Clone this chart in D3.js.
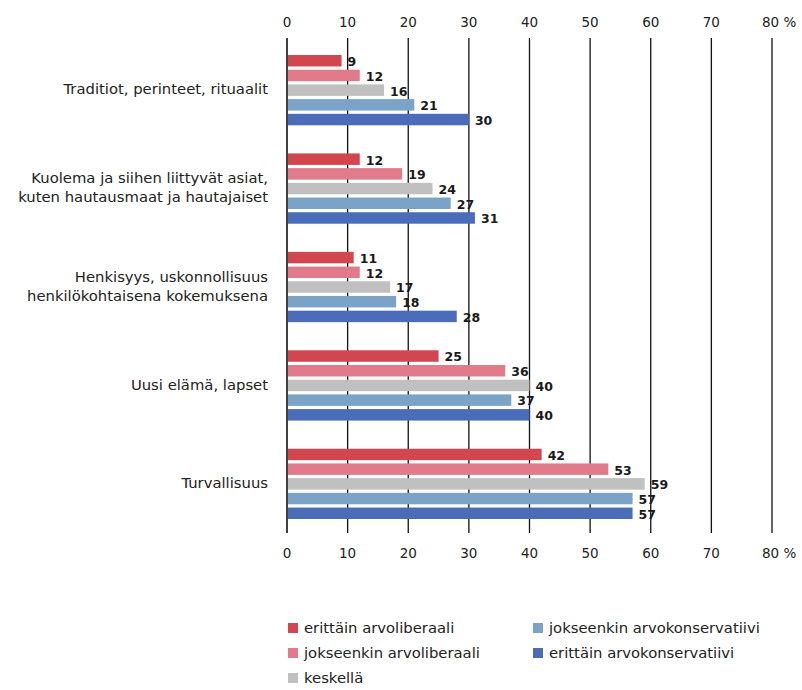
<html lang="fi">
  <head>
    <meta charset="UTF-8">
    <title>Arvot ja asenteet</title>
    <script src="https://d3js.org/d3.v7.min.js"></script>
    <style>
body, html {
  margin: 0;
  padding: 0;
  background: white;
  overflow: hidden;
}
svg {
  display: block;
  font-family: "DejaVu Sans", sans-serif;
}
    </style>
  </head>
  <body>
    <svg width="802" height="690"></svg>
    <script>
      // data
      const categories = [
        ["Traditiot, perinteet, rituaalit"],
        ["Kuolema ja siihen liittyvät asiat,", "kuten hautausmaat ja hautajaiset"],
        ["Henkisyys, uskonnollisuus", "henkilökohtaisena kokemuksena"],
        ["Uusi elämä, lapset"],
        ["Turvallisuus"]
      ];
      const seriesNames = [
        "erittäin arvoliberaali",
        "jokseenkin arvoliberaali",
        "keskellä",
        "jokseenkin arvokonservatiivi",
        "erittäin arvokonservatiivi"
      ];
      const colors = ["#d2474f", "#e17a8a", "#c0c0c0", "#7ba2c7", "#4a6cb9"];
      const values = [
        [9, 12, 16, 21, 30],
        [12, 19, 24, 27, 31],
        [11, 12, 17, 18, 28],
        [25, 36, 40, 37, 40],
        [42, 53, 59, 57, 57]
      ];
      const ticks = [0, 10, 20, 30, 40, 50, 60, 70, 80];

      const svg = d3.select("svg");

      const x = d3.scaleLinear().domain([0, 80]).range([287, 772]);
      const y0 = d3.scaleBand().domain(d3.range(categories.length)).range([55, 519]).paddingInner(0.286).paddingOuter(0);
      const y1 = d3.scaleBand().domain(d3.range(seriesNames.length)).range([0, y0.bandwidth()]).paddingInner(0.22);

      // gridlines
      svg.append("g").selectAll("line")
        .data(ticks)
        .join("line")
        .attr("x1", d => x(d)).attr("x2", d => x(d))
        .attr("y1", 38).attr("y2", 533)
        .attr("stroke", "#111")
        .attr("stroke-width", d => d === 0 ? 1.6 : 1.3);

      // tick labels top and bottom
      [22, 553].forEach(ty => {
        svg.append("g").selectAll("text")
          .data(ticks)
          .join("text")
          .attr("x", d => x(d))
          .attr("y", ty)
          .attr("dy", "0.35em")
          .attr("text-anchor", d => d === 80 ? "start" : "middle")
          .attr("dx", d => d === 80 ? -10 : 0)
          .attr("font-size", 13.5)
          .attr("fill", "#222")
          .text(d => d === 80 ? "80 %" : d);
      });

      const groups = svg.append("g").selectAll("g")
        .data(values)
        .join("g")
        .attr("transform", (d, i) => `translate(0,${y0(i)})`);

      groups.selectAll("rect")
        .data(d => d)
        .join("rect")
        .attr("x", x(0) + 1)
        .attr("y", (d, j) => y1(j))
        .attr("width", d => x(d) - x(0) - 1)
        .attr("height", y1.bandwidth())
        .attr("fill", (d, j) => colors[j]);

      groups.selectAll("text.val")
        .data(d => d)
        .join("text")
        .attr("class", "val")
        .attr("x", d => x(d) + 6)
        .attr("y", (d, j) => y1(j) + y1.bandwidth() / 2 + 1)
        .attr("dy", "0.35em")
        .attr("font-size", 12.5)
        .attr("font-weight", "bold")
        .attr("fill", "#1a1a1a")
        .text(d => d);

      // category labels
      groups.append("text")
        .attr("text-anchor", "end")
        .attr("font-size", 14.8)
        .attr("fill", "#222")
        .each(function(d, i) {
          const lines = categories[i];
          const mid = y1(2) + y1.bandwidth() / 2 - 1;
          d3.select(this).selectAll("tspan")
            .data(lines)
            .join("tspan")
            .attr("x", 268)
            .attr("y", (l, k) => mid + (k - (lines.length - 1) / 2) * 19)
            .attr("dy", "0.35em")
            .text(l => l);
        });

      // legend
      const legendPos = [[288, 628], [288, 653], [288, 678], [533, 628], [533, 653]];
      const legend = svg.append("g").selectAll("g")
        .data(seriesNames)
        .join("g")
        .attr("transform", (d, i) => `translate(${legendPos[i][0]},${legendPos[i][1]})`);
      legend.append("rect")
        .attr("x", 0).attr("y", -5)
        .attr("width", 10).attr("height", 10)
        .attr("fill", (d, i) => colors[i]);
      legend.append("text")
        .attr("x", 16)
        .attr("dy", "0.35em")
        .attr("font-size", 14.8)
        .attr("fill", "#222")
        .text(d => d);
    </script>
  </body>
</html>
